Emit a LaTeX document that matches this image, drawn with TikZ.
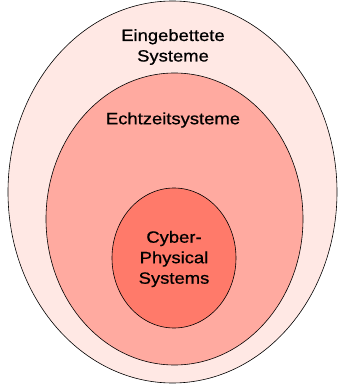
\documentclass[tikz,border=0pt]{standalone}
\usepackage{fontspec}
\setmainfont{Liberation Sans}[FakeStretch=1.13,FakeBold=0.8]
\usetikzlibrary{shapes.geometric}
\definecolor{embfill}{RGB}{255,232,228}
\definecolor{rtfill}{RGB}{255,170,160}
\definecolor{cpsfill}{RGB}{255,122,106}
\begin{document}
\begin{tikzpicture}[x=1pt,y=1pt]
        \tikzstyle{set}=[ellipse, draw=black, line width=0.6pt, inner sep=0pt]
        \tikzstyle{setlabel}=[align=center, font=\fontsize{16.3}{20.5}\selectfont]
        \useasboundingbox (0,0) rectangle (338,384);
        \node[set, fill=embfill, minimum width=329, minimum height=382] (emb) at (172.5,192) {};
        \node[set, fill=rtfill, minimum width=257, minimum height=292] (rt) at (174.5,165) {};
        \node[set, fill=cpsfill, minimum width=124, minimum height=140] (cps) at (174,126) {};
        \node[setlabel] (emblabel) at (173,337) {Eingebettete\\Systeme};
        \node[setlabel] (rtlabel) at (173,264) {Echtzeitsysteme};
        \node[setlabel] (cpslabel) at (174,125) {Cyber-\\Physical\\Systems};
    \end{tikzpicture}
\end{document}
